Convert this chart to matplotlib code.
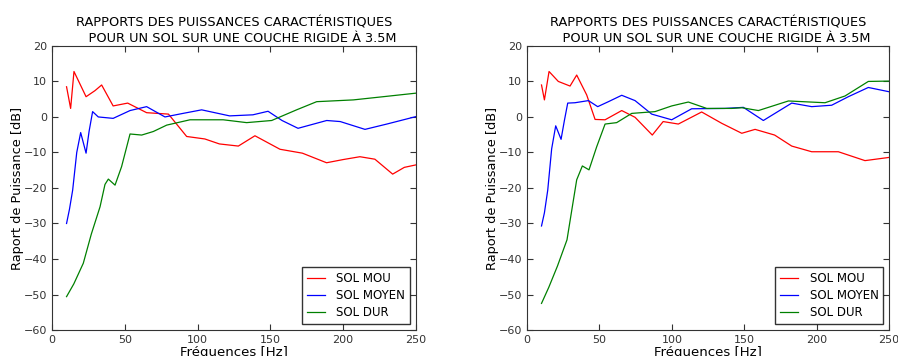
import matplotlib
matplotlib.use("Agg")
import matplotlib.pyplot as plt

# Graphique de gauche
freqG_mou = [10, 12.8, 15.1, 23.4, 29.5, 34.1, 42, 52, 65, 80, 92.5, 105, 115, 128, 139.4,
             156.6, 172, 188.6, 200, 211.5, 221.8, 234, 242, 250]
dbG_mou = [8.5, 2.4, 12.8, 5.7, 7.4, 9, 3.1, 3.9, 1.2, 0.8, -5.5, -6.2, -7.6, -8.2, -5.3,
           -9.1, -10.2, -12.9, -12.0, -11.2, -11.9, -16.1, -14.2, -13.5]

freqG_moyen = [10, 12, 14.2, 17, 19.7, 23.4, 25.5, 27.9, 31.8, 42, 53.6, 65, 77.6, 90, 102.8,
               122, 138, 148.4, 158, 169, 188.7, 198, 215, 230, 250]
dbG_moyen = [-30, -26, -20.6, -10, -4.4, -10.2, -4, 1.5, 0, -0.4, 1.8, 2.9, 0, 1, 2,
             0.3, 0.6, 1.6, -1, -3.2, -1, -1.3, -3.5, -2, 0.1]

freqG_dur = [10, 15, 21.5, 27, 33, 36.4, 38.7, 43.3, 47.8, 53.6, 61.6, 69.6, 78.8, 94.8,
             117.6, 133.7, 150.9, 168, 181.8, 207, 227.5, 250]
dbG_dur = [-50.6, -47, -41.2, -33, -25.3, -19, -17.5, -19.2, -14, -4.8, -5.1, -4.1, -2.3, -0.8,
           -0.8, -1.6, -1, 2, 4.3, 4.8, 5.7, 6.7]

# Graphique de droite
freqD_mou = [10, 12, 15.2, 21.6, 29.7, 34.3, 41.2, 47, 53.9, 65.4, 74.6, 86.5, 94, 104.5,
             120.6, 134.5, 148.3, 157.5, 171, 182.8, 196.6, 215, 233.4, 250]
dbD_mou = [9, 4.8, 12.8, 10, 8.7, 11.8, 6.2, -0.7, -0.8, 1.8, -0.1, -5.1, -1.3, -2,
           1.4, -1.8, -4.6, -3.5, -5.1, -8.2, -9.8, -9.8, -12.3, -11.4]

freqD_moyen = [10, 12, 14.3, 17, 19.8, 23.5, 25.8, 28.1, 33.1, 42.4, 48.8, 56.2, 65.4, 74.6,
               86.1, 99.9, 113.7, 136.7, 149.4, 163.2, 182.8, 196.6, 210.4, 221.9, 235.7, 250]
dbD_moyen = [-30.7, -27, -20.6, -9, -2.5, -6.3, -1, 3.9, 4, 4.6, 2.9, 4.3, 6.1, 4.6,
             0.8, -0.8, 2.3, 2.4, 2.7, -1, 3.9, 2.9, 3.3, 5.7, 8.3, 7.1]

freqD_dur = [10, 15, 21, 27.6, 31, 34.3, 38.2, 42.8, 48.1, 53.9, 61.9, 72.3, 88.4, 99.9,
             111.4, 124.1, 141.4, 148.3, 159.8, 180.5, 205.8, 219.6, 235.7, 250]
dbD_dur = [-52.5, -48, -42, -34.6, -26, -17.7, -13.8, -14.9, -8.4, -2, -1.6, 1, 1.5, 3.1,
           4.2, 2.4, 2.4, 2.6, 1.8, 4.5, 4, 5.9, 10, 10.1]

titre = "RAPPORTS DES PUISSANCES CARACTÉRISTIQUES\n    POUR UN SOL SUR UNE COUCHE RIGIDE À 3.5M"
noms = ["SOL MOU", "SOL MOYEN", "SOL DUR"]
couleurs = ["#ff0000", "#0000ff", "#008000"]


def tracer(ax, series):
    for (f, d), nom, c in zip(series, noms, couleurs):
        ax.plot(f, d, color=c, lw=0.9, label=nom)
    ax.set_xlim(0, 250)
    ax.set_ylim(-60, 20)
    ax.set_xticks([0, 50, 100, 150, 200, 250])
    ax.set_yticks(range(-60, 21, 10))
    ax.tick_params(direction="in", top=True, right=True, labelsize=8, length=4, colors="#333333")
    ax.set_title(titre, fontsize=9.3, pad=3)
    ax.set_xlabel("Fréquences [Hz]", fontsize=9.5, labelpad=1)
    ax.set_ylabel("Raport de Puissance [dB]", fontsize=9.3, labelpad=0)
    leg = ax.legend(loc="lower right", fontsize=8.5, fancybox=False,
                    handlelength=1.5, handletextpad=1.0, borderaxespad=0.5, labelspacing=0.35)
    leg.get_frame().set_edgecolor("black")
    for s in ax.spines.values():
        s.set_linewidth(0.8)
        s.set_color("#333333")


fig = plt.figure(figsize=(8.98, 3.56), dpi=100)
ax1 = fig.add_axes([0.0579, 0.073, 0.4053, 0.798])
ax2 = fig.add_axes([0.5869, 0.073, 0.4031, 0.798])

tracer(ax1, [(freqG_mou, dbG_mou), (freqG_moyen, dbG_moyen), (freqG_dur, dbG_dur)])
tracer(ax2, [(freqD_mou, dbD_mou), (freqD_moyen, dbD_moyen), (freqD_dur, dbD_dur)])

fig.savefig("out.png", dpi=100)
